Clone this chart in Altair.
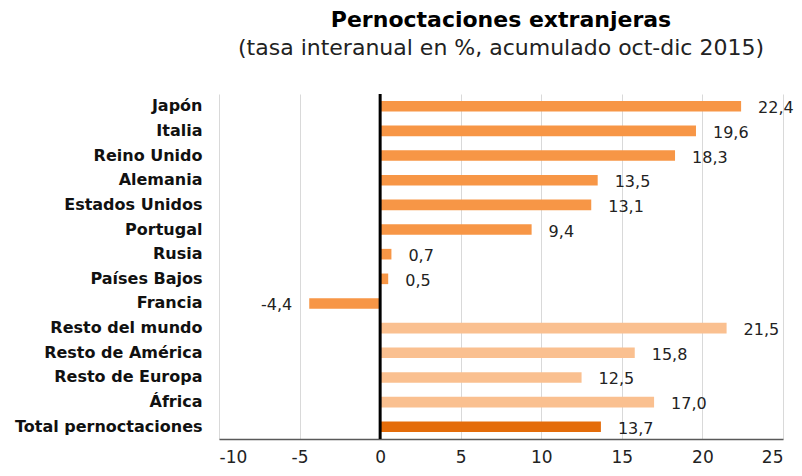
import altair as alt
import pandas as pd

categories = ["Japón", "Italia", "Reino Unido", "Alemania", "Estados Unidos",
              "Portugal", "Rusia", "Países Bajos", "Francia", "Resto del mundo",
              "Resto de América", "Resto de Europa", "África", "Total pernoctaciones"]
values = [22.4, 19.6, 18.3, 13.5, 13.1, 9.4, 0.7, 0.5, -4.4, 21.5, 15.8, 12.5, 17.0, 13.7]
groups = ["pais"] * 9 + ["region"] * 4 + ["total"]
group_colors = {"pais": "#F79646", "region": "#FAC090", "total": "#E46C0A"}
x_ticks = [-10, -5, 0, 5, 10, 15, 20, 25]

df = pd.DataFrame({
    "cat": categories,
    "v": values,
    "g": groups,
    "lbl": [f"{v:.1f}".replace(".", ",") for v in values],
})

FONT = "DejaVu Sans"

yenc = alt.Y("cat:N", sort=categories, title=None,
             scale=alt.Scale(paddingInner=0.57, paddingOuter=0.28),
             axis=alt.Axis(domain=False, ticks=False, labelFontSize=16,
                           labelFontWeight="bold", labelColor="#111111",
                           labelFont=FONT, labelPadding=17, labelLimit=400,
                           minExtent=211, maxExtent=211))
xenc = alt.X("v:Q", title=None,
             scale=alt.Scale(domain=[-10, 25], nice=False, zero=False),
             axis=alt.Axis(values=x_ticks, ticks=False, labelFontSize=17,
                           labelColor="#222222", labelFont=FONT,
                           labelPadding=10, labelExpr="'' + datum.value",
                           grid=True, gridColor="#D9D9D9", gridWidth=1,
                           domainColor="#595959", domainWidth=1.5))

base = alt.Chart(df)

bars = base.mark_bar().encode(
    x=xenc,
    y=yenc,
    color=alt.Color("g:N", scale=alt.Scale(domain=list(group_colors.keys()),
                                           range=list(group_colors.values())),
                    legend=None),
)

pos_text = base.transform_filter("datum.v >= 0").mark_text(
    align="left", baseline="middle", dx=17, dy=2, fontSize=16, font=FONT,
    color="#222222").encode(x="v:Q", y=alt.Y("cat:N", sort=categories), text="lbl:N")

neg_text = base.transform_filter("datum.v < 0").mark_text(
    align="right", baseline="middle", dx=-17, dy=2, fontSize=16, font=FONT,
    color="#222222").encode(x="v:Q", y=alt.Y("cat:N", sort=categories), text="lbl:N")

zero = alt.Chart(pd.DataFrame({"z": [0]})).mark_rule(
    color="black", strokeWidth=3).encode(x="z:Q")

chart = alt.layer(bars, pos_text, neg_text, zero).properties(
    width=564,
    height=345,
    padding={"left": 0, "top": 0, "right": 0, "bottom": 0},
    title=alt.TitleParams(
        text="Pernoctaciones extranjeras",
        subtitle="(tasa interanual en %, acumulado oct-dic 2015)",
        font=FONT, fontSize=22, fontWeight="bold", color="#000000",
        subtitleFont=FONT, subtitleFontSize=22, subtitleColor="#222222",
        subtitlePadding=6, offset=33, anchor="middle",
    ),
).configure_view(stroke=None)

chart.save("out.html", embed_options={"renderer": "svg", "actions": False})
